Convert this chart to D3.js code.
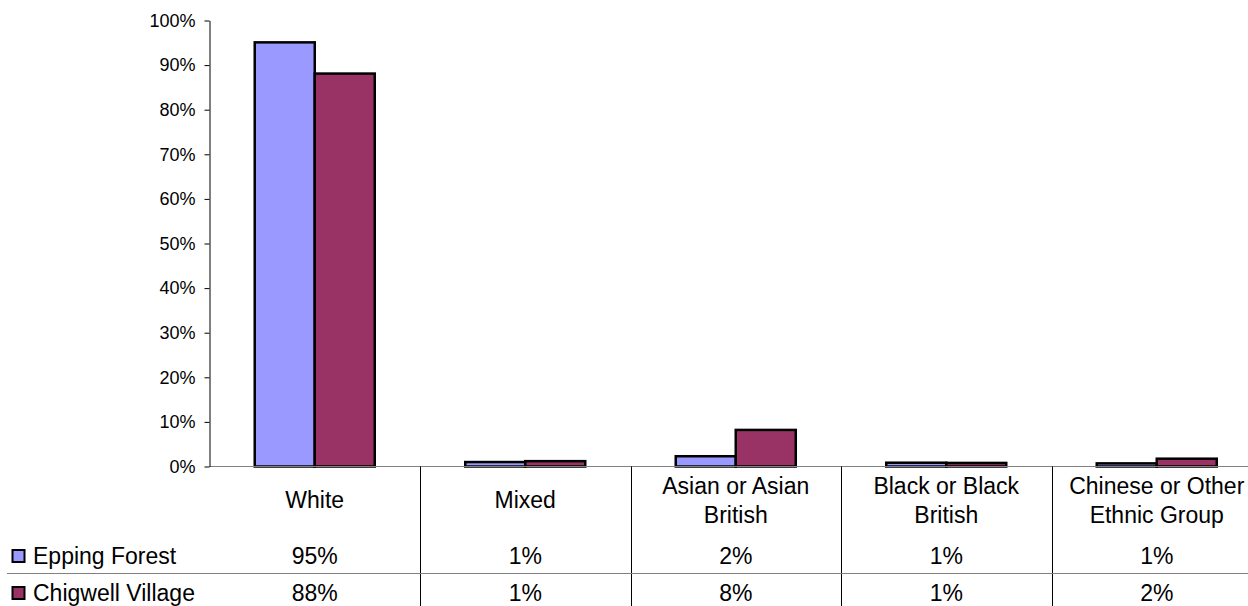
<!DOCTYPE html>
<html>
<head>
    <title>Ethnic group chart</title>
    <script src="https://d3js.org/d3.v7.min.js"></script>
    <style>
        body { margin: 0; background: #fff; }
        text { font-family: "Liberation Sans", Arial, sans-serif; fill: #000; }
    </style>
</head>
<body>
    <div id="chart"></div>
    <script>

        // data
        const categories = ["White", "Mixed", "Asian or Asian British", "Black or Black British", "Chinese or Other Ethnic Group"];
        const categoryLines = [["White"], ["Mixed"], ["Asian or Asian", "British"], ["Black or Black", "British"], ["Chinese or Other", "Ethnic Group"]];
        const series = ["Epping Forest", "Chigwell Village"];
        const eppingForest = [95.1, 1.0, 2.3, 0.85, 0.7];
        const chigwellVillage = [88.1, 1.2, 8.2, 0.8, 1.75];
        const yTicks = [0, 10, 20, 30, 40, 50, 60, 70, 80, 90, 100];
        const colors = ["#9999FF", "#993366"];

        const values = [eppingForest, chigwellVillage];

        const W = 1248, H = 606;
        const plotLeft = 209.5, plotTop = 20.5, plotBottom = 466.5;
        const catWidth = 210.5;

        const svg = d3.select("#chart")
            .append("svg")
                .attr("width", W)
                .attr("height", H);

        // scales
        const x0 = d3.scaleBand()
            .domain(categories)
            .range([plotLeft, plotLeft + catWidth * categories.length]);

        const x1 = d3.scaleBand()
            .domain(series)
            .range([0, x0.bandwidth()])
            .paddingOuter(0.754);

        const y = d3.scaleLinear()
            .domain([0, 100])
            .range([plotBottom, plotTop]);

        // bars
        series.forEach((s, si) => {
            svg.append("g")
                .selectAll("rect")
                .data(values[si])
                .join("rect")
                    .attr("x", (d, i) => x0(categories[i]) + x1(s))
                    .attr("y", d => y(d))
                    .attr("width", x1.bandwidth())
                    .attr("height", d => y(0) - y(d))
                    .attr("fill", colors[si])
                    .attr("stroke", "#000")
                    .attr("stroke-width", 2.5);
        });

        // x axis line
        svg.append("line")
            .attr("x1", plotLeft).attr("x2", W)
            .attr("y1", plotBottom).attr("y2", plotBottom)
            .attr("stroke", "#808080")
            .attr("stroke-width", 1);

        // y axis
        const yAxis = svg.append("g")
            .attr("transform", `translate(${plotLeft},0)`)
            .call(d3.axisLeft(y)
                .tickValues(yTicks)
                .tickFormat(d => d + "%")
                .tickSize(5)
                .tickSizeOuter(0)
                .tickPadding(9));
        yAxis.selectAll("path, line").attr("stroke", "#000");
        yAxis.selectAll("text")
            .style("font-size", "18px")
            .style("font-family", "'Liberation Sans', Arial, sans-serif");

        // data table
        const table = svg.append("g");
        const rowLineY = 573.5;

        table.selectAll("line.vdiv")
            .data(categories.slice(1))
            .join("line")
                .attr("class", "vdiv")
                .attr("x1", d => Math.round(x0(d)) + 0.5)
                .attr("x2", d => Math.round(x0(d)) + 0.5)
                .attr("y1", plotBottom)
                .attr("y2", H)
                .attr("stroke", "#000")
                .attr("stroke-width", 1);

        table.append("line")
            .attr("x1", 7).attr("x2", W)
            .attr("y1", rowLineY).attr("y2", rowLineY)
            .attr("stroke", "#808080")
            .attr("stroke-width", 1);

        // category headers
        categoryLines.forEach((lines, i) => {
            const cx = x0(categories[i]) + x0.bandwidth() / 2;
            const startY = lines.length === 1 ? 508 : 494;
            lines.forEach((ln, li) => {
                table.append("text")
                    .attr("x", cx)
                    .attr("y", startY + li * 29)
                    .attr("text-anchor", "middle")
                    .style("font-size", "23px")
                    .text(ln);
            });
        });

        // value rows
        const rowBaselines = [564, 601];
        series.forEach((s, si) => {
            table.selectAll(null)
                .data(values[si])
                .join("text")
                    .attr("x", (d, i) => x0(categories[i]) + x0.bandwidth() / 2)
                    .attr("y", rowBaselines[si])
                    .attr("text-anchor", "middle")
                    .style("font-size", "23px")
                    .text(d => Math.round(d) + "%");

            // legend key
            table.append("rect")
                .attr("x", 12.5)
                .attr("y", rowBaselines[si] - 14)
                .attr("width", 12)
                .attr("height", 12)
                .attr("fill", colors[si])
                .attr("stroke", "#000")
                .attr("stroke-width", 2);

            table.append("text")
                .attr("x", 33)
                .attr("y", rowBaselines[si])
                .style("font-size", "23px")
                .text(s);
        });

    </script>
</body>
</html>
